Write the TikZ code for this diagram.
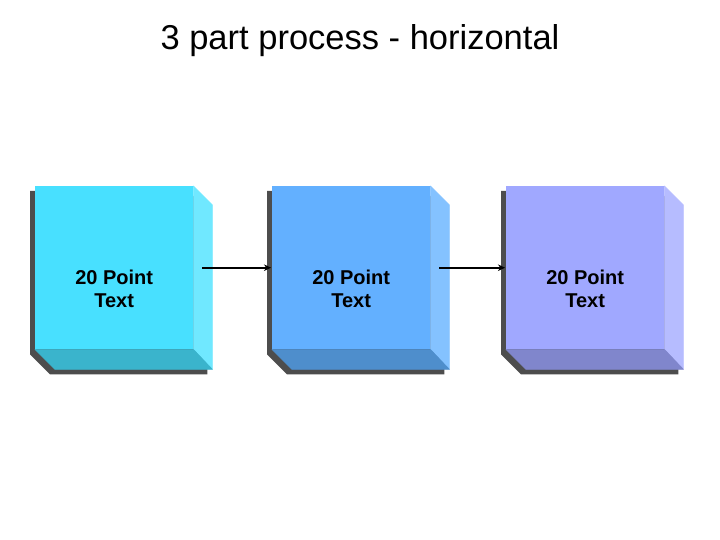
\documentclass[tikz,border=0pt]{standalone}
\usepackage{fontspec}
\setmainfont{Liberation Sans}
\usetikzlibrary{backgrounds,arrows.meta,calc}
\definecolor{fA}{RGB}{72,224,255}
\definecolor{rA}{RGB}{112,232,255}
\definecolor{dA}{RGB}{58,180,204}
\definecolor{fB}{RGB}{99,176,255}
\definecolor{rB}{RGB}{132,194,255}
\definecolor{dB}{RGB}{78,142,204}
\definecolor{fC}{RGB}{160,168,255}
\definecolor{rC}{RGB}{182,188,255}
\definecolor{dC}{RGB}{128,134,204}
\definecolor{shadowgray}{RGB}{77,77,77}
\tikzset{
  front/.style={draw=none, minimum width=158pt, minimum height=163pt, inner sep=0pt,
    anchor=north west},
  boxtext/.style={align=center, font=\bfseries\fontsize{20}{23}\selectfont},
  link/.style={line width=2.2pt, -{Stealth[length=7pt,width=6.5pt]}},
  bevel/.style={fill=#1, draw=#1, line width=0.6pt, line join=round},
}
\begin{document}
\begin{tikzpicture}[x=1pt,y=-1pt]
\useasboundingbox (0,0) rectangle (720,540);
\node[font=\fontsize{34.5}{38}\selectfont] (title) at (360,41) {3 part process - horizontal};
\foreach \i/\x/\f/\r/\d in {1/35/fA/rA/dA, 2/272/fB/rB/dB, 3/506/fC/rC/dC}{
  \node[front] (b\i) at (\x,186) {};
  \begin{pgfonlayer}{background}
    \fill[shadowgray] ($(b\i.north west)+(-5,5)$) -- ($(b\i.north east)+(-5,5)$)
      -- ($(b\i.north east)+(14,24)$) -- ($(b\i.south east)+(14,25)$)
      -- ($(b\i.south west)+(15,25)$) -- ($(b\i.south west)+(-5,5)$) -- cycle;
  \end{pgfonlayer}
  \path[bevel=\r] (b\i.north east) -- ($(b\i.north east)+(19,19)$) -- ($(b\i.south east)+(19,20)$) -- (b\i.south east) -- cycle;
  \path[bevel=\d] (b\i.south west) -- (b\i.south east) -- ($(b\i.south east)+(19,20)$) -- ($(b\i.south west)+(20,20)$) -- cycle;
  \fill[\f] (b\i.north west) rectangle (b\i.south east);
  \node[boxtext] (t\i) at ($(b\i.center)+(0,21)$) {20 Point\\Text};
}
\draw[link] ($(b1.east)+(9,0)$) -- ($(b2.west)+(-1,0)$);
\draw[link] ($(b2.east)+(9,0)$) -- ($(b3.west)+(-1,0)$);
\end{tikzpicture}
\end{document}
